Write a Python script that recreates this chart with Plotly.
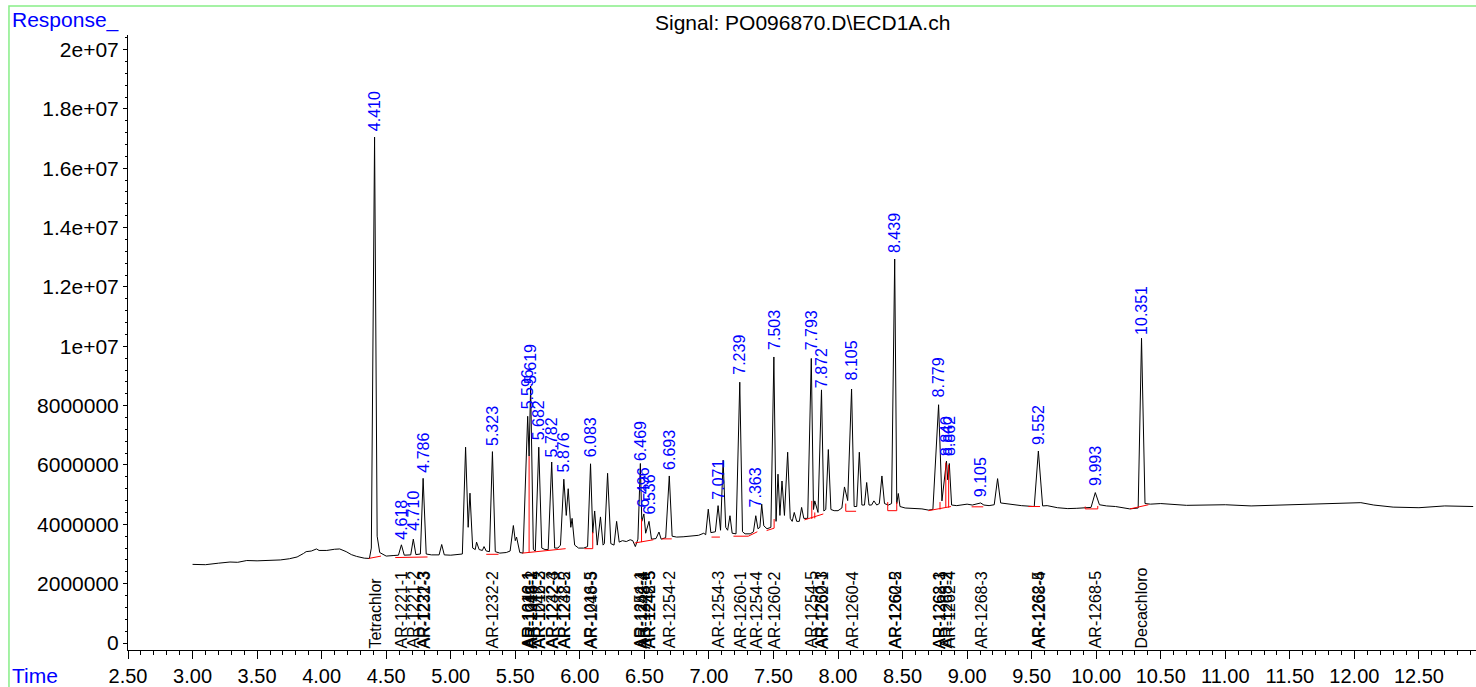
import plotly.graph_objects as go

# ---- chromatogram signal (time in min, response in millions) ----
signal_time = [
    3.00, 3.10, 3.20, 3.29, 3.35, 3.42, 3.50, 3.60, 3.68, 3.75, 3.81, 3.86, 3.88, 3.92, 3.96, 3.98,
    4.04, 4.10, 4.14, 4.19, 4.23, 4.27, 4.33, 4.37,
    4.385, 4.41, 4.43, 4.45, 4.50, 4.56, 4.595, 4.618, 4.64, 4.69, 4.710, 4.73, 4.765, 4.786, 4.81,
    4.85, 4.91, 4.93, 4.95, 5.00, 5.05, 5.09, 5.115, 5.135, 5.149, 5.17, 5.19, 5.20, 5.22, 5.245,
    5.258, 5.275, 5.30, 5.323, 5.345, 5.38, 5.43, 5.46, 5.485, 5.50, 5.51, 5.535, 5.56, 5.596,
    5.607, 5.619, 5.64, 5.655, 5.682, 5.705, 5.73, 5.755, 5.782, 5.805, 5.83, 5.85, 5.876, 5.895,
    5.91, 5.93, 5.94, 5.96, 5.99, 6.03, 6.06, 6.083, 6.10, 6.115, 6.135, 6.16, 6.18, 6.19, 6.215,
    6.24, 6.265, 6.285, 6.305, 6.33, 6.36, 6.39, 6.41, 6.43, 6.45, 6.469, 6.48, 6.496, 6.51, 6.536,
    6.555, 6.59, 6.613, 6.63, 6.665, 6.693, 6.715, 6.75, 6.80, 6.86, 6.92, 6.96, 6.975, 6.995, 7.015,
    7.05, 7.071, 7.09, 7.11, 7.13, 7.145, 7.163, 7.18, 7.21, 7.239, 7.26, 7.28, 7.32, 7.345, 7.363,
    7.38, 7.395, 7.409, 7.425, 7.45, 7.48, 7.503, 7.52, 7.535, 7.55, 7.566, 7.585, 7.61, 7.63, 7.645,
    7.661, 7.68, 7.70, 7.718, 7.735, 7.765, 7.793, 7.81, 7.82, 7.845, 7.872, 7.89, 7.905, 7.925,
    7.945, 7.97, 8.00, 8.03, 8.05, 8.075, 8.105, 8.125, 8.145, 8.165, 8.185, 8.205, 8.222, 8.24,
    8.26, 8.278, 8.30, 8.32, 8.34, 8.36, 8.39, 8.415, 8.439, 8.455, 8.467, 8.48, 8.52, 8.58, 8.65,
    8.70, 8.735, 8.779, 8.805, 8.84, 8.85, 8.862, 8.88, 8.92, 8.96, 9.00, 9.04, 9.07, 9.105, 9.13,
    9.17, 9.21, 9.236, 9.26, 9.30, 9.35, 9.42, 9.52, 9.552, 9.585, 9.62, 9.70, 9.78, 9.85, 9.96,
    9.993, 10.025, 10.08, 10.15, 10.26, 10.325, 10.351, 10.378, 10.42, 10.50, 10.70, 11.00, 11.20,
    11.50, 11.70, 11.90, 12.05, 12.15, 12.30, 12.50, 12.70, 12.92,
]
signal_resp = [
    2.65, 2.64, 2.69, 2.73, 2.72, 2.78, 2.77, 2.78, 2.80, 2.84, 2.90, 3.02, 3.08, 3.10, 3.17, 3.12,
    3.12, 3.16, 3.17, 3.08, 2.98, 2.92, 2.86, 2.85,
    3.20, 17.05, 3.60, 3.05, 2.93, 2.95, 2.96, 3.31, 2.96, 2.97, 3.50, 2.98, 3.00, 5.55, 3.00,
    2.97, 2.97, 3.32, 2.97, 2.96, 2.97, 3.00, 6.60, 3.90, 5.05, 3.20, 3.15, 3.40, 3.15, 3.12,
    3.25, 3.10, 3.08, 6.45, 3.08, 3.03, 3.05, 3.10, 3.96, 3.45, 3.57, 3.05, 3.03, 7.64,
    6.30, 8.66, 3.15, 3.10, 6.60, 3.20, 3.15, 3.15, 6.10, 3.20, 3.20, 3.30, 5.52, 4.30,
    5.20, 3.90, 4.20, 3.30, 3.20, 3.20, 3.25, 6.04, 3.70, 4.45, 3.30, 4.25, 3.30, 3.35, 5.72,
    3.35, 3.30, 4.10, 3.40, 3.45, 3.42, 3.48, 3.45, 3.25, 3.50, 6.05, 4.10, 4.35, 3.70, 4.10,
    3.50, 3.52, 3.74, 3.50, 3.55, 5.63, 3.60, 3.57, 3.58, 3.60, 3.63, 3.70, 3.65, 4.51, 3.72,
    3.75, 4.63, 3.80, 6.16, 3.90, 3.80, 4.29, 3.70, 3.68, 8.79, 3.75, 3.68, 3.68, 3.75, 4.29,
    3.85, 3.90, 4.68, 3.95, 3.85, 3.90, 9.64, 4.10, 5.69, 4.30, 5.46, 4.30, 6.43, 4.20, 4.10,
    4.40, 4.10, 4.10, 4.57, 4.20, 4.20, 9.59, 4.50, 4.79, 4.40, 8.53, 4.45, 4.50, 6.52,
    4.50, 4.46, 4.46, 4.55, 5.26, 4.80, 8.56, 4.60, 4.60, 6.43, 4.65, 4.65, 5.41, 4.65,
    4.65, 4.79, 4.65, 4.70, 5.63, 4.70, 4.65, 4.70, 12.94, 4.70, 5.04, 4.60, 4.55, 4.54, 4.52,
    4.48, 4.50, 8.03, 4.79, 6.13, 5.50, 6.05, 4.65, 4.63, 4.65, 4.68, 4.65, 4.68, 4.72, 4.65,
    4.63, 4.66, 5.54, 4.72, 4.70, 4.65, 4.63, 4.60, 6.47, 4.62, 4.63, 4.56, 4.53, 4.54, 4.57,
    5.07, 4.66, 4.62, 4.60, 4.52, 4.55, 10.27, 4.70, 4.68, 4.70, 4.64, 4.66, 4.62,
    4.66, 4.70, 4.72, 4.73, 4.65, 4.58, 4.56, 4.62, 4.60,
]

# ---- red integration baselines (start time, start resp, end time, end resp) ----
int_t0 = [4.365, 4.57, 5.275, 5.555, 5.607, 6.035, 6.10, 6.425, 6.478, 6.635, 7.02, 7.19, 7.305,
          7.447, 7.505, 7.74, 7.797, 7.82, 8.06, 8.06, 8.385, 8.385, 8.455, 8.70, 8.79, 8.835,
          8.857, 9.035, 9.475, 9.915, 9.915, 10.012, 10.262]
int_v0 = [2.85, 2.88, 2.99, 3.03, 3.05, 3.18, 3.18, 3.37, 3.40, 3.51, 3.57, 3.60, 3.60,
          3.79, 3.87, 4.15, 4.18, 4.20, 4.44, 4.44, 4.46, 4.46, 4.46, 4.46, 4.50, 4.55,
          4.56, 4.59, 4.60, 4.52, 4.52, 4.52, 4.52]
int_t1 = [4.46, 4.82, 5.37, 5.89, 5.607, 6.10, 6.10, 6.57, 6.478, 6.712, 7.085, 7.305, 7.375,
          7.505, 7.505, 7.886, 7.797, 7.82, 8.14, 8.06, 8.455, 8.385, 8.455, 8.875, 8.79, 8.835,
          8.857, 9.125, 9.565, 10.012, 9.915, 10.012, 10.405]
int_v1 = [2.93, 2.90, 2.99, 3.18, 6.30, 3.18, 3.74, 3.48, 4.18, 3.51, 3.57, 3.60, 3.75,
          3.87, 4.18, 4.35, 4.79, 4.40, 4.44, 4.70, 4.46, 4.75, 4.75, 4.60, 4.75, 6.08,
          6.00, 4.59, 4.60, 4.52, 4.60, 4.62, 4.66]

# ---- peak retention-time labels (blue) ----
peak_labels = ["4.410", "4.618", "4.710", "4.786", "5.323", "5.596", "5.619", "5.682", "5.782",
               "5.876", "6.083", "6.469", "6.496", "6.536", "6.693", "7.071", "7.239", "7.363",
               "7.503", "7.793", "7.872", "8.105", "8.439", "8.779", "8.840", "8.862", "9.105",
               "9.552", "9.993", "10.351"]
peak_label_y = [17.20, 3.46, 3.76, 5.71, 6.62, 7.83, 8.68, 6.79, 6.21, 5.71, 6.21, 6.11, 4.53,
                4.30, 5.81, 4.80, 9.00, 4.53, 9.84, 9.84, 8.57, 8.80, 13.10, 8.23, 6.28, 6.28,
                4.87, 6.65, 5.27, 10.35]

# ---- compound names (black, along the bottom) ----
compound_names = ["Tetrachlor", "AR-1221-1", "AR-1221-2", "AR-1221-3", "AR-1232-3", "AR-1232-2",
                  "AR-1016-1", "AR-1242-1", "AR-1248-1", "AR-1016-2", "AR-1242-2", "AR-1016-3",
                  "AR-1232-4", "AR-1242-3", "AR-1232-5", "AR-1248-2", "AR-1016-5", "AR-1248-3",
                  "AR-1254-1", "AR-1242-4", "AR-1248-4", "AR-1242-5", "AR-1248-5", "AR-1254-2",
                  "AR-1254-3", "AR-1260-1", "AR-1254-4", "AR-1260-2", "AR-1254-5", "AR-1260-3",
                  "AR-1262-1", "AR-1260-4", "AR-1260-5", "AR-1262-2", "AR-1268-1", "AR-1262-3",
                  "AR-1268-2", "AR-1262-4", "AR-1268-3", "AR-1262-5", "AR-1268-4", "AR-1268-5",
                  "Decachloro"]
compound_rt = [4.410, 4.618, 4.710, 4.786, 4.790, 5.323,
               5.596, 5.599, 5.619, 5.622, 5.682, 5.685,
               5.782, 5.785, 5.876, 5.879, 6.083, 6.086,
               6.469, 6.472, 6.496, 6.536, 6.539, 6.693,
               7.071, 7.239, 7.363, 7.503, 7.793, 7.872,
               7.875, 8.105, 8.439, 8.442, 8.779, 8.782,
               8.840, 8.862, 9.105, 9.552, 9.555, 9.993,
               10.351]

y_tick_vals = [0, 2e6, 4e6, 6e6, 8e6, 1e7, 1.2e7, 1.4e7, 1.6e7, 1.8e7, 2e7]
y_tick_text = ["0", "2000000", "4000000", "6000000", "8000000", "1e+07", "1.2e+07", "1.4e+07",
               "1.6e+07", "1.8e+07", "2e+07"]

MILLION = 1e6
FONT = "Liberation Sans, Arial, sans-serif"

fig = go.Figure()
fig.add_trace(go.Scatter(
    x=signal_time, y=[v * MILLION for v in signal_resp], mode="lines",
    line=dict(color="black", width=1), hoverinfo="x+y", showlegend=False))

bx, by = [], []
for a, b, c, d in zip(int_t0, int_v0, int_t1, int_v1):
    bx += [a, c, None]
    by += [b * MILLION, d * MILLION, None]
fig.add_trace(go.Scatter(x=bx, y=by, mode="lines", line=dict(color="red", width=1),
                         hoverinfo="skip", showlegend=False))

annotations = []
for lab, yv in zip(peak_labels, peak_label_y):
    annotations.append(dict(x=float(lab), y=yv * MILLION, xref="x", yref="y", text=lab,
                            textangle=-90, showarrow=False, xanchor="center", yanchor="bottom",
                            font=dict(family=FONT, size=16, color="#0000ff"), borderpad=0))
for name, rt in zip(compound_names, compound_rt):
    annotations.append(dict(x=rt, y=-0.22 * MILLION, xref="x", yref="y", text=name,
                            textangle=-90, showarrow=False, xanchor="center", yanchor="bottom",
                            font=dict(family=FONT, size=16, color="black"), borderpad=0))

annotations += [
    dict(x=0.5, y=1.0211, xref="paper", yref="paper", text="Signal: PO096870.D\\ECD1A.ch",
         showarrow=False, xanchor="center", yanchor="middle",
         font=dict(family=FONT, size=21, color="black")),
    dict(x=-0.0875, y=1.0243, xref="paper", yref="paper", text="Response_",
         showarrow=False, xanchor="left", yanchor="middle",
         font=dict(family=FONT, size=21, color="#0000ff")),
    dict(x=-0.0875, y=-0.0420, xref="paper", yref="paper", text="Time",
         showarrow=False, xanchor="left", yanchor="middle",
         font=dict(family=FONT, size=21, color="#0000ff")),
]

fig.update_layout(
    width=1476, height=687,
    margin=dict(l=128, r=0, t=35, b=35),
    paper_bgcolor="white", plot_bgcolor="white",
    font=dict(family=FONT, color="black"),
    annotations=annotations,
    shapes=[dict(type="rect", xref="paper", yref="paper",
                 x0=-0.0883, x1=1.05, y0=-0.2, y1=1.047,
                 line=dict(color="#88ee88", width=1.5), fillcolor="rgba(0,0,0,0)",
                 layer="below")],
    xaxis=dict(range=[2.5, 12.942], showline=True, linecolor="black", linewidth=1,
               ticks="outside", ticklen=8, tickcolor="black", tick0=2.5, dtick=0.5,
               tickformat=".2f", showgrid=False, zeroline=False,
               tickfont=dict(family=FONT, size=20, color="black"),
               minor=dict(dtick=0.1, ticks="outside", ticklen=4, tickcolor="black",
                          showgrid=False)),
    yaxis=dict(range=[-0.235e6, 20.49e6], showline=True, linecolor="black", linewidth=1,
               ticks="outside", ticklen=4, tickcolor="black", tickvals=y_tick_vals,
               ticktext=y_tick_text, showgrid=False, zeroline=False,
               tickfont=dict(family=FONT, size=21, color="black"),
               minor=dict(dtick=0.4e6, ticks="outside", ticklen=2, tickcolor="black",
                          showgrid=False)),
)

fig.write_html(
    "out.html",
    config={"displayModeBar": False},
    post_script="document.body.style.margin='0px';document.body.style.overflow='hidden';",
)
